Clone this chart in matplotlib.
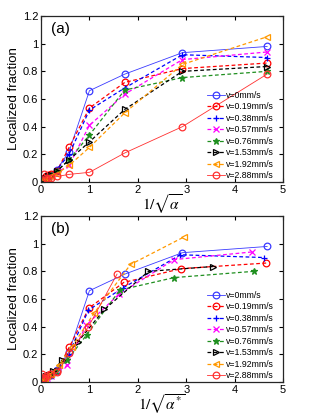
import numpy as np
import matplotlib
matplotlib.use('Agg')
import matplotlib.pyplot as plt
from matplotlib.ticker import FuncFormatter

plt.rcParams['font.family'] = ['Liberation Sans', 'DejaVu Sans']
plt.rcParams['mathtext.fontset'] = 'stix'

labels = ['v=0mm/s', 'v=0.19mm/s', 'v=0.38mm/s', 'v=0.57mm/s',
          'v=0.76mm/s', 'v=1.53mm/s', 'v=1.92mm/s', 'v=2.88mm/s']

# panel (a): x = 1/sqrt(alpha), same for every speed
x_a = [0.07, 0.1, 0.14, 0.21, 0.33, 0.58, 1.0, 1.73, 2.92, 4.67]

# localized fraction, one list per speed
y_v0   = [0.02, 0.03, 0.04, 0.05, 0.09, 0.22, 0.66, 0.78, 0.935, 0.98]
y_v019 = [0.03, 0.04, 0.05, 0.06, 0.08, 0.25, 0.535, 0.72, 0.82, 0.86]
y_v038 = [0.02, 0.03, 0.04, 0.05, 0.09, 0.20, 0.52, 0.68, 0.92, 0.90]
y_v057 = [0.02, 0.03, 0.03, 0.04, 0.07, 0.12, 0.41, 0.635, 0.885, 0.94]
y_v076 = [0.02, 0.03, 0.04, 0.05, 0.08, 0.16, 0.34, 0.665, 0.755, 0.80]
y_v153 = [0.02, 0.03, 0.04, 0.05, 0.08, 0.16, 0.29, 0.525, 0.80, 0.835]
y_v192 = [0.02, 0.02, 0.03, 0.04, 0.06, 0.12, 0.25, 0.50, 0.85, 1.05]
y_v288 = [0.06, 0.03, 0.02, 0.03, 0.04, 0.055, 0.07, 0.21, 0.40, 0.78]

# panel (b): x = 1/sqrt(alpha*), read per speed
xb_v0   = [0.07, 0.1, 0.14, 0.21, 0.33, 0.58, 1.0, 1.73, 2.92, 4.67]
xb_v019 = [0.07, 0.1, 0.14, 0.21, 0.33, 0.58, 0.99, 1.71, 2.90, 4.65]
xb_v038 = [0.07, 0.1, 0.14, 0.21, 0.33, 0.57, 0.98, 1.69, 2.88, 4.60]
xb_v057 = [0.065, 0.09, 0.13, 0.20, 0.31, 0.54, 0.93, 1.61, 2.75, 4.35]
xb_v076 = [0.065, 0.095, 0.13, 0.20, 0.31, 0.545, 0.94, 1.63, 2.75, 4.39]
xb_v153 = [0.053, 0.076, 0.106, 0.16, 0.25, 0.44, 0.76, 1.31, 2.22, 3.55]
xb_v192 = [0.044, 0.063, 0.089, 0.133, 0.21, 0.37, 0.63, 1.10, 1.85, 2.96]
xb_v288 = [0.024, 0.034, 0.047, 0.07, 0.11, 0.195, 0.34, 0.58, 0.98, 1.57]

ys = [y_v0, y_v019, y_v038, y_v057, y_v076, y_v153, y_v192, y_v288]
xbs = [xb_v0, xb_v019, xb_v038, xb_v057, xb_v076, xb_v153, xb_v192, xb_v288]

colors = ['#3a3aff', 'r', 'b', '#ff00ff', '#1f8f1f', 'k', '#ff9900', '#ff3030']
markers = ['o', 'o', '+', 'x', '*', '>', '<', 'o']
styles = ['-', '--', '--', '--', '--', '--', '--', '-']
widths = [0.6, 0.9, 0.9, 0.9, 0.9, 0.9, 0.9, 0.6]

fig = plt.figure(figsize=(3.14, 4.16), dpi=100)
ax_a = fig.add_axes([0.1306, 0.5625, 0.771, 0.399])
ax_b = fig.add_axes([0.1306, 0.0817, 0.771, 0.399])


def draw(ax, xs_list, tag, xlab):
    for xs, y, c, m, ls, lw, lab in zip(xs_list, ys, colors, markers, styles, widths, labels):
        kw = dict(color=c, marker=m, linestyle=ls, linewidth=lw, label=lab,
                  markersize=4.8, markeredgewidth=0.9)
        if m in ['o', '>', '<']:
            kw['markerfacecolor'] = 'none'
        if ls == '--':
            kw['dashes'] = (3, 2)
        ax.plot(xs, y, **kw)
    ax.set_xlim(0, 5)
    ax.set_ylim(0, 1.2)
    ax.set_xticks(np.arange(0, 6, 1))
    ax.set_yticks(np.arange(0, 1.21, 0.2))
    ax.yaxis.set_major_formatter(FuncFormatter(lambda v, p: '%g' % round(v, 1)))
    ax.tick_params(direction='in', top=True, right=True, length=3,
                   labelsize=8, width=0.8, pad=2)
    for s in ax.spines.values():
        s.set_linewidth(0.9)
        s.set_color('#262626')
    ax.set_ylabel('Localized fraction', fontsize=9.5, labelpad=2)
    ax.set_xlabel(xlab, fontsize=11, labelpad=-1.5)
    ax.text(0.04, 0.9, tag, transform=ax.transAxes, fontsize=11)
    ax.legend(loc='lower right', frameon=False, fontsize=6.3, handlelength=2.0,
              handletextpad=0.1, labelspacing=0.28, borderaxespad=0.0,
              bbox_to_anchor=(0.975, -0.01))


draw(ax_a, [x_a] * 8, '(a)', r'$1/\sqrt{\alpha}$')
draw(ax_b, xbs, '(b)', r'$1/\sqrt{\alpha^{*}}$')

fig.savefig('out.png', dpi=100)
